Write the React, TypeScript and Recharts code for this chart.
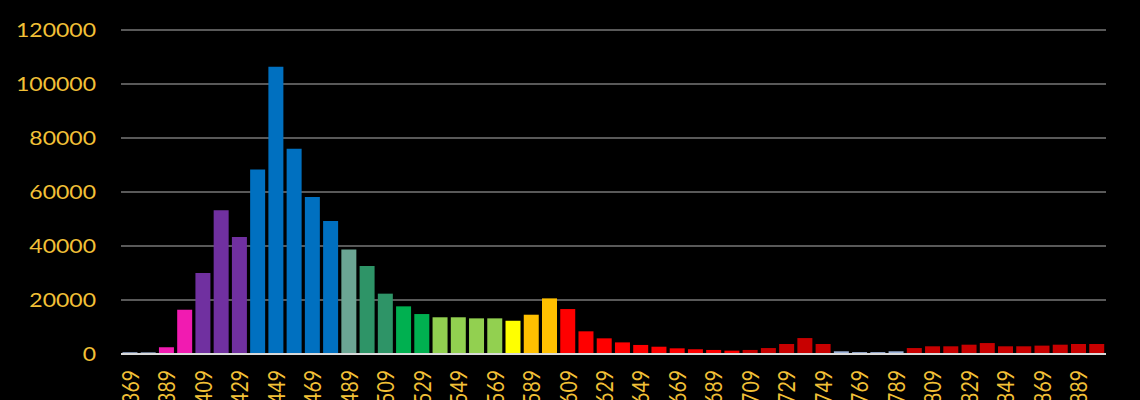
import { Bar, BarChart, CartesianGrid, Cell, XAxis, YAxis } from "recharts";

const wavelengths = [
  "369", "379", "389", "399", "409", "419", "429", "439", "449", "459",
  "469", "479", "489", "499", "509", "519", "529", "539", "549", "559",
  "569", "579", "589", "599", "609", "619", "629", "639", "649", "659",
  "669", "679", "689", "699", "709", "719", "729", "739", "749", "759",
  "769", "779", "789", "799", "809", "819", "829", "839", "849", "859",
  "869", "879", "889", "899"
];

const counts = [
  650, 600, 2500, 16400, 30000, 53200, 43300, 68300, 106400, 76000,
  58150, 49250, 38750, 32600, 22350, 17650, 14800, 13600, 13600, 13200,
  13200, 12350, 14550, 20600, 16650, 8400, 5800, 4300, 3350, 2700,
  2100, 1750, 1500, 1250, 1500, 2200, 3700, 5900, 3700, 1000,
  700, 700, 1000, 2200, 2850, 2850, 3450, 4050, 2850, 2850,
  3100, 3450, 3700, 3700
];

const yTicks = [0, 20000, 40000, 60000, 80000, 100000, 120000];

// one colour per wavelength bin
const LB = "#9DB3DA";
const MG = "#F11BB1";
const PU = "#7030A0";
const BL = "#0070C0";
const TG = "#6BA593";
const SG = "#2E9467";
const GR = "#00B050";
const LG = "#92D050";
const YE = "#FFFF00";
const OR = "#FFC000";
const RD = "#FF0000";
const DR = "#C80000";

const barColors = [
  LB, LB, MG, MG, PU, PU, PU, BL, BL, BL,
  BL, BL, TG, SG, SG, GR, GR, LG, LG, LG,
  LG, YE, OR, OR, RD, RD, RD, RD, RD, RD,
  RD, RD, RD, RD, DR, DR, DR, DR, DR, LB,
  LB, LB, LB, DR, DR, DR, DR, DR, DR, DR,
  DR, DR, DR, DR
];

const data = wavelengths.map((w, i) => ({ wavelength: w, count: counts[i] }));

const labelColor = "#F2C037";
const fontFamily = "Lato, 'Open Sans', sans-serif";
// the reference is a bit stretched horizontally
const stretch = 1.18;

function YTick({ x, y, payload }: any) {
  return (
    <g transform={`translate(${x},${y}) scale(${stretch},1)`}>
      <text
        x={0}
        y={0}
        textAnchor="end"
        dominantBaseline="central"
        fill={labelColor}
        fontSize={19.5}
        fontFamily={fontFamily}
      >
        {payload.value}
      </text>
    </g>
  );
}

function XTick({ x, y, payload }: any) {
  return (
    <g transform={`translate(${x},${y + 16}) scale(${stretch},1) rotate(-90)`}>
      <text
        x={0}
        y={0}
        textAnchor="end"
        dominantBaseline="central"
        fill={labelColor}
        fontSize={19.5}
        fontFamily={fontFamily}
      >
        {payload.value}
      </text>
    </g>
  );
}

export default function App() {
  return (
    <div style={{ position: "fixed", left: 0, top: 0, width: 1140, height: 400, background: "#000" }}>
      <BarChart
        width={1140}
        height={400}
        data={data}
        margin={{ top: 30, right: 34, left: 0, bottom: 0 }}
        barCategoryGap="8%"
      >
        <CartesianGrid vertical={false} stroke="#595959" strokeWidth={2} />
        <XAxis
          dataKey="wavelength"
          interval={1}
          height={46}
          tickLine={false}
          tickSize={0}
          tickMargin={0}
          axisLine={{ stroke: "#D9D9D9", strokeWidth: 2 }}
          tick={<XTick />}
        />
        <YAxis
          width={121}
          domain={[0, 120000]}
          ticks={yTicks}
          axisLine={false}
          tickLine={false}
          tickSize={0}
          tickMargin={25}
          tick={<YTick />}
        />
        <Bar dataKey="count" isAnimationActive={false}>
          {data.map((d, i) => (
            <Cell key={d.wavelength} fill={barColors[i]} />
          ))}
        </Bar>
      </BarChart>
    </div>
  );
}
